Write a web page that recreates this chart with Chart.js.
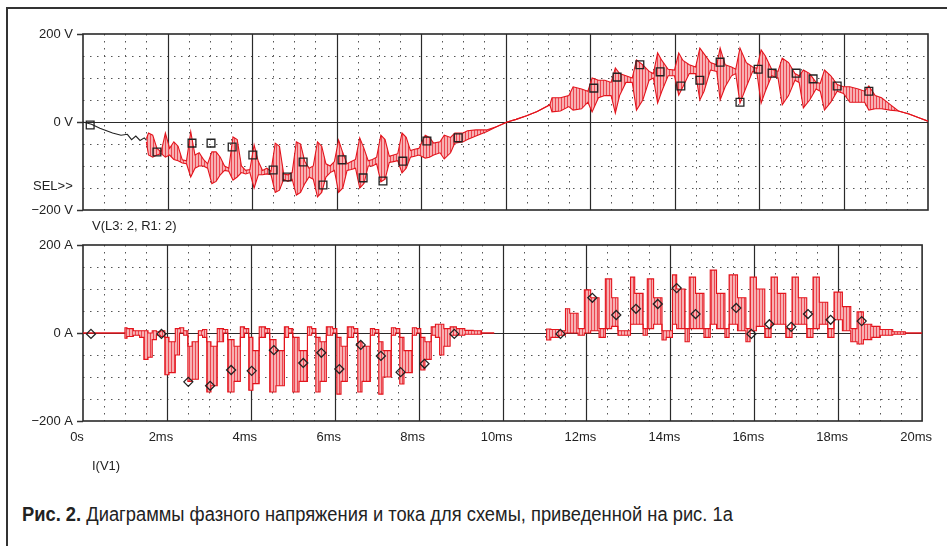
<!DOCTYPE html>
<html>
<head>
<meta charset="utf-8">
<script src="https://cdn.jsdelivr.net/npm/chart.js@4.4.0/dist/chart.umd.min.js"></script>
<style>
  body { margin: 0; background: #fff; }
  #wrap { position: relative; width: 947px; height: 546px; overflow: hidden; background: #fff;
          font-family: "Liberation Sans", Arial, sans-serif; color: #222; }
  #frame { position: absolute; left: 6px; top: 7px; width: 980px; height: 600px;
           border-left: 2px solid #333; border-top: 2px solid #333; }
  canvas { position: absolute; left: 0; }
  .lbl { position: absolute; font-size: 13px; white-space: nowrap; color: #222; }
  #caption { position: absolute; left: 22px; top: 503px; font-size: 20px; color: #222; white-space: nowrap;
             font-family: "Liberation Sans", Arial, sans-serif; transform-origin: 0 0; }
</style>
</head>
<body>
<div id="wrap">
  <div id="frame"></div>
  <canvas id="chartV" width="947" height="230" style="top:0"></canvas>
  <canvas id="chartI" width="947" height="240" style="top:230px"></canvas>
  <div class="lbl" style="left:33px; top:178px">SEL&gt;&gt;</div>
  <div class="lbl" style="left:92px; top:218px">V(L3: 2, R1: 2)</div>
  <div class="lbl" style="left:92px; top:458px">I(V1)</div>
  <div id="caption"><b>Рис. 2.</b> Диаграммы фазного напряжения и тока для схемы, приведенной на рис. 1а</div>
</div>
<script>
// axis ticks
var xTicks = [0, 2, 4, 6, 8, 10, 12, 14, 16, 18, 20];
var xLabels = ['0s', '2ms', '4ms', '6ms', '8ms', '10ms', '12ms', '14ms', '16ms', '18ms', '20ms'];
var yTicks = [-200, 0, 200];

// V(L3:2, R1:2) - start (black part), ms / V
var tBlack = [0, 0.2, 0.4, 0.7, 0.9, 1.05, 1.15, 1.25, 1.35, 1.45, 1.5];
var vBlack = [0, -5, -14, -25, -30, -28, -40, -32, -42, -36, -41];

// V(L3:2, R1:2) - red trace, upper / lower envelope
var tV = [
  1.50, 1.55, 1.65, 1.75, 1.85, 1.95,
  2.05, 2.15, 2.25, 2.35, 2.45, 2.55, 2.65, 2.75, 2.85, 2.95,
  3.05, 3.15, 3.25, 3.35, 3.45, 3.55, 3.65, 3.75, 3.85, 3.95,
  4.05, 4.15, 4.25, 4.35, 4.45, 4.55, 4.65, 4.75, 4.85, 4.95,
  5.05, 5.15, 5.25, 5.35, 5.45, 5.55, 5.65, 5.75, 5.85, 5.95,
  6.05, 6.15, 6.25, 6.35, 6.45, 6.55, 6.65, 6.75, 6.85, 6.95,
  7.05, 7.15, 7.25, 7.35, 7.45, 7.55, 7.65, 7.75, 7.85, 7.95,
  8.10, 8.20, 8.30, 8.45, 8.55, 8.70, 8.80, 9.00, 9.10, 9.30, 9.55, 9.80,
  10.04, 10.25, 10.5, 10.75, 11.05, 11.10, 11.30, 11.50, 11.60, 11.80, 11.95,
  12.05, 12.20, 12.35, 12.50, 12.60, 12.70, 12.85,
  13.00, 13.10, 13.25, 13.40, 13.50, 13.60, 13.70, 13.85,
  14.00, 14.10, 14.20, 14.35, 14.50, 14.60, 14.70, 14.85,
  15.00, 15.08, 15.20, 15.35, 15.45, 15.55, 15.70, 15.85, 15.95,
  16.05, 16.15, 16.30, 16.45, 16.55, 16.70, 16.85, 16.95,
  17.05, 17.20, 17.35, 17.45, 17.55, 17.70, 17.85, 18.00,
  18.15, 18.35, 18.50, 18.60, 18.75, 18.90, 19.10, 19.30, 19.55, 19.80, 20.00
];
var vHi = [
  -38, -25, -30, -60, -68, -25,
  -60, -45, -55, -86, -88, -22, -75, -70, -85, -95,
  -68, -68, -80, -100, -105, -34, -40, -100, -110, -108,
  -52, -90, -110, -105, -112, -48, -55, -118, -120, -115,
  -45, -50, -90, -105, -100, -45, -55, -95, -100, -90,
  -41, -70, -95, -90, -85, -36, -60, -88, -85, -80,
  -30, -40, -78, -75, -72, -25, -35, -65, -62, -60,
  -30, -35, -48, -45, -30, -35, -25, -25, -20, -18, -18, -10,
  0, 6, 14, 24, 39, 55, 55, 60, 80, 75, 70,
  100, 95, 95, 90, 123, 110, 105,
  100, 141, 130, 115, 110, 157, 140, 120,
  118, 157, 140, 130, 125, 168, 155, 135,
  130, 168, 130, 125, 120, 168, 135, 125, 122,
  164, 150, 120, 115, 145, 135, 110, 105,
  118, 110, 90, 88, 118, 105, 85, 80,
  80, 75, 70, 82, 60, 55, 40, 25, 18, 9, 2
];
var vLo = [
  -45, -75, -80, -75, -72, -80,
  -75, -85, -88, -93, -95, -125, -105, -100, -100, -105,
  -140, -135, -120, -110, -112, -132, -125, -115, -118, -115,
  -150, -120, -120, -118, -120, -160, -155, -130, -135, -130,
  -166, -160, -140, -125, -130, -170, -160, -125, -115, -110,
  -160, -150, -110, -108, -105, -150, -140, -100, -100, -95,
  -136, -130, -92, -90, -88, -116, -105, -80, -78, -75,
  -82, -80, -75, -70, -84, -70, -48, -45, -40, -32, -22, -10,
  0, 6, 14, 24, 39, 23, 25, 35, 27, 30, 45,
  23, 55, 60, 60, 20, 60, 90,
  90, 27, 50, 95, 100, 43, 70, 105,
  105, 61, 80, 110, 110, 50, 70, 118,
  115, 50, 80, 105, 110, 43, 80, 115, 112,
  43, 70, 105, 100, 39, 60, 95, 90,
  32, 50, 75, 70, 27, 45, 70, 65,
  45, 45, 45, 27, 30, 30, 27, 25, 18, 9, 2
];
// square markers on V trace
var tSq = [0.17, 1.75, 2.58, 3.03, 3.53, 4.02, 4.50, 4.83, 5.21, 5.68, 6.13, 6.63, 7.10, 7.57, 8.14, 8.88,
           12.09, 12.64, 13.18, 13.66, 14.15, 14.60, 15.08, 15.55, 15.98, 16.31, 16.88, 17.28, 17.85, 18.60];
var vSq = [-7, -68, -48, -48, -57, -75, -109, -125, -91, -143, -86, -127, -134, -89, -43, -36,
           77, 102, 130, 114, 82, 95, 136, 45, 120, 111, 111, 98, 82, 70];

// I(V1) - upper / lower envelope, null = trace not visible
var tI = [
  0, 1.00, 1.05, 1.20, 1.35, 1.45, 1.55, 1.65, 1.75, 1.85, 1.95,
  2.05, 2.20, 2.30, 2.40, 2.50, 2.60, 2.75, 2.85, 2.95,
  3.05, 3.20, 3.35, 3.45, 3.60, 3.75, 3.85, 3.95,
  4.05, 4.20, 4.35, 4.45, 4.60, 4.80, 4.90, 5.00,
  5.15, 5.35, 5.45, 5.55, 5.65, 5.80, 5.95, 6.05,
  6.15, 6.30, 6.45, 6.55, 6.65, 6.85, 6.95, 7.05,
  7.15, 7.35, 7.45, 7.55, 7.65, 7.85, 7.95, 8.05,
  8.15, 8.30, 8.40, 8.50, 8.60, 8.75, 8.90, 9.10, 9.30, 9.50, 9.80,
  10.40,
  11.05, 11.15, 11.35, 11.50, 11.60, 11.80, 11.95, 12.10, 12.30, 12.45,
  12.60, 12.75, 12.90, 13.05, 13.15, 13.35, 13.45,
  13.60, 13.80, 13.90, 14.05, 14.15, 14.35, 14.45,
  14.60, 14.80, 14.95, 15.10, 15.30, 15.40,
  15.60, 15.80, 15.90, 16.05, 16.25, 16.40,
  16.55, 16.75, 16.90, 17.05, 17.25, 17.40,
  17.55, 17.75, 17.90, 18.10, 18.30, 18.45,
  18.60, 18.80, 19.00, 19.30, 19.60, 20.00
];
var iHi = [
  0, 0, 12, 10, 5, 5, 5, 0, 5, 3, 5,
  -10, -20, 10, 12, 5, -30, -20, 5, 8,
  -20, -30, 10, 8, -15, -30, 14, 10,
  -10, -40, 14, 10, -15, -40, 14, 10,
  -10, -40, 14, 10, -10, -20, 14, 10,
  -10, -30, 14, 10, -20, -30, 10, 8,
  -20, -40, 12, 10, -10, -40, 12, 10,
  -10, -20, 14, 20, 20, 10, 14, 10, 6, 5, 0,
  null,
  0, 9, 8, 5, 55, 45, 10, 98, 80, 10,
  123, 80, 5, 5, 127, 90, 10,
  123, 80, 5, 5, 132, 100, 10,
  127, 90, 10, 143, 90, 10,
  132, 80, 10, 127, 100, 10,
  127, 90, 10, 127, 80, 10,
  127, 70, 10, 93, 60, 10,
  48, 20, 15, 8, 3, 0
];
var iLo = [
  0, 0, -12, -8, -5, -10, -60, -55, -15, -5, -8,
  -95, -90, -50, 0, -5, -110, -105, -5, -10,
  -134, -120, -20, 0, -134, -110, -10, 0,
  -130, -115, -10, 0, -134, -120, -10, 0,
  -134, -110, -5, 0, -134, -110, -5, 0,
  -139, -110, -10, 0, -134, -110, -5, 0,
  -139, -100, -5, 0, -116, -90, -5, 0,
  -84, -60, -5, -10, -50, -30, -5, -5, -3, -3, 0,
  null,
  0, -16, -10, -5, 0, 0, -5, 0, 5, -10,
  10, 15, -5, -5, 20, 20, -5,
  10, 20, -16, -10, 20, 10, -20,
  10, 10, -10, 20, 10, -10,
  20, 5, -20, 5, 15, -10,
  20, 20, -10, 20, 20, -10,
  10, 20, -10, 30, 5, -20,
  -25, -15, -10, -5, -3, 0
];
// diamond markers on I trace
var tDia = [0.19, 1.87, 2.51, 3.03, 3.53, 4.02, 4.55, 5.25, 5.68, 6.11, 6.62, 7.10, 7.57, 8.14, 8.85,
            11.38, 12.14, 12.71, 13.18, 13.70, 14.15, 14.60, 15.57, 15.93, 16.36, 16.88, 17.28, 17.82, 18.56];
var iDia = [-2, -2, -111, -120, -84, -86, -39, -68, -45, -82, -27, -52, -89, -70, -2,
            -2, 80, 41, 55, 66, 102, 43, 57, -2, 20, 14, 43, 30, 27];

function pts(t, v) {
  return t.map(function (x, i) { return { x: x, y: v[i] }; });
}

function hatch() {
  var c = document.createElement('canvas');
  c.width = 3; c.height = 4;
  var g = c.getContext('2d');
  g.fillStyle = '#f7b0b2';
  g.fillRect(0, 0, 3, 4);
  g.fillStyle = '#ec4650';
  g.fillRect(0, 0, 1, 4);
  return g.createPattern(c, 'repeat');
}

var RED = '#e3141c';

// dotted / solid grid like the simulator plot
var gridLines = {
  id: 'gridLines',
  beforeDatasetsDraw: function (chart) {
    var ctx = chart.ctx, a = chart.chartArea;
    var sx = chart.scales.x, sy = chart.scales.y;
    var t, v, p;
    ctx.save();
    ctx.lineWidth = 1;
    ctx.strokeStyle = '#555';
    ctx.setLineDash([1.5, 5.5]);
    for (t = 0.5; t < 20; t += 0.5) {
      if (t % 2 === 0) continue;
      p = Math.round(sx.getPixelForValue(t)) + 0.5;
      ctx.beginPath(); ctx.moveTo(p, a.top); ctx.lineTo(p, a.bottom); ctx.stroke();
    }
    for (v = -150; v < 200; v += 50) {
      if (v === 0) continue;
      p = Math.round(sy.getPixelForValue(v)) + 0.5;
      ctx.beginPath(); ctx.moveTo(a.left, p); ctx.lineTo(a.right, p); ctx.stroke();
    }
    ctx.setLineDash([]);
    ctx.strokeStyle = '#2a2a2a';
    ctx.lineWidth = 1.2;
    for (t = 2; t < 20; t += 2) {
      p = Math.round(sx.getPixelForValue(t)) + 0.5;
      ctx.beginPath(); ctx.moveTo(p, a.top); ctx.lineTo(p, a.bottom); ctx.stroke();
    }
    p = Math.round(sy.getPixelForValue(0)) + 0.5;
    ctx.beginPath(); ctx.moveTo(a.left, p); ctx.lineTo(a.right, p); ctx.stroke();
    ctx.lineWidth = 1.6;
    ctx.strokeRect(a.left, a.top, a.right - a.left, a.bottom - a.top);
    ctx.restore();
  }
};

function yAxis(unit) {
  return {
    type: 'linear', min: -200, max: 200,
    afterBuildTicks: function (s) { s.ticks = yTicks.map(function (v) { return { value: v }; }); },
    afterFit: function (s) { s.width = 83; },
    ticks: {
      color: '#222', padding: 4,
      font: { family: 'Liberation Sans', size: 13 },
      callback: function (v) { return (v < 0 ? '\u2212' + (-v) : v) + ' ' + unit; }
    },
    grid: { drawOnChartArea: false, drawTicks: true, tickLength: 6, tickColor: '#333', tickWidth: 1.5 },
    border: { display: false }
  };
}

function xAxis(show, height) {
  return {
    type: 'linear', min: 0, max: 20, display: show,
    afterBuildTicks: function (s) { s.ticks = xTicks.map(function (v) { return { value: v }; }); },
    afterFit: function (s) { s.height = height; },
    ticks: {
      color: '#222', padding: 9, labelOffset: -6, autoSkip: false, maxRotation: 0,
      font: { family: 'Liberation Sans', size: 13 },
      callback: function (v, i) { return xLabels[i]; }
    },
    grid: { display: false, drawTicks: false },
    border: { display: false }
  };
}

function lineSet(data, color, fill, step) {
  return {
    data: data, borderColor: color, borderWidth: 1.1, pointRadius: 0, tension: 0,
    stepped: step, fill: fill ? '-1' : false, backgroundColor: hatch(), spanGaps: false
  };
}

function markSet(data, style, r) {
  return {
    data: data, showLine: false, pointStyle: style, pointRadius: r,
    pointBorderColor: '#222', pointBorderWidth: 1.3, pointBackgroundColor: 'rgba(0,0,0,0)'
  };
}

function commonOptions(padding, xShow, xHeight, unit) {
  return {
    responsive: false, animation: false, events: [],
    layout: { padding: padding, autoPadding: false },
    plugins: { legend: { display: false }, tooltip: { enabled: false } },
    scales: { x: xAxis(xShow, xHeight), y: yAxis(unit) }
  };
}

new Chart(document.getElementById('chartV'), {
  type: 'line',
  data: {
    datasets: [
      markSet(pts(tSq, vSq), 'rect', 5.5),
      lineSet(pts(tV, vHi), RED, false, false),
      lineSet(pts(tV, vLo), RED, true, false),
      lineSet(pts(tBlack, vBlack), '#222', false, false)
    ]
  },
  options: commonOptions({ top: 34, right: 19, bottom: 20, left: 0 }, false, 0, 'V'),
  plugins: [gridLines]
});

new Chart(document.getElementById('chartI'), {
  type: 'line',
  data: {
    datasets: [
      markSet(pts(tDia, iDia), 'rectRot', 4.5),
      lineSet(pts(tI, iHi), RED, false, 'after'),
      lineSet(pts(tI, iLo), RED, true, 'after')
    ]
  },
  options: commonOptions({ top: 15, right: 19, bottom: 0, left: 0 }, true, 49, 'A'),
  plugins: [gridLines]
});

// caption in the narrow typeface of the original
var cap = document.getElementById('caption');
cap.style.transform = 'scaleX(' + (711 / cap.offsetWidth) + ')';
</script>
</body>
</html>
